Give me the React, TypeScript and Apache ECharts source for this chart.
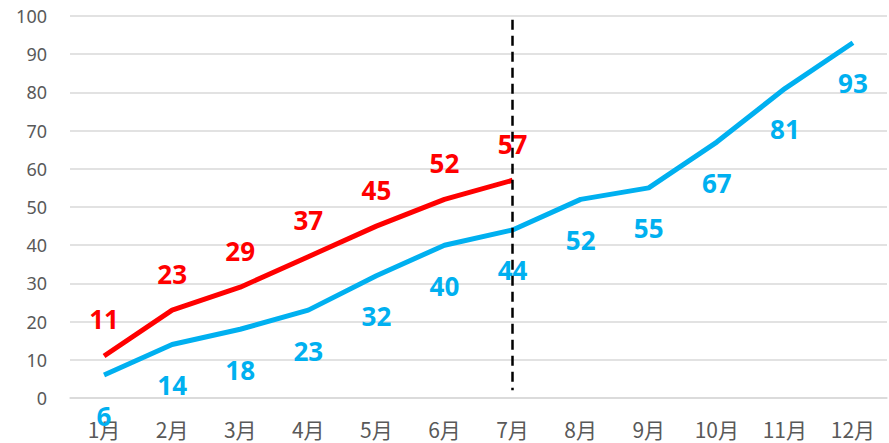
import React, { useEffect, useRef } from "react";
import * as echarts from "echarts";

const months = ["1月", "2月", "3月", "4月", "5月", "6月", "7月", "8月", "9月", "10月", "11月", "12月"];
const redValues = [11, 23, 29, 37, 45, 52, 57];
const blueValues = [6, 14, 18, 23, 32, 40, 44, 52, 55, 67, 81, 93];
const yTicks = { min: 0, max: 100, interval: 10 };
const markMonth = "7月";
const markRange = [99, 2];

export default function App() {
  const ref = useRef<HTMLDivElement>(null);
  useEffect(() => {
    if (!ref.current) return;
    const chart = echarts.init(ref.current, undefined, { renderer: "svg" });
    const labelFont = '"Open Sans", "Noto Sans", sans-serif';
    chart.setOption({
      animation: false,
      backgroundColor: "#ffffff",
      grid: { left: 70, right: 2, top: 16, bottom: 45, containLabel: false },
      xAxis: {
        type: "category",
        data: months,
        boundaryGap: true,
        axisLine: { show: true, lineStyle: { color: "#d9d9d9", width: 1.5 } },
        axisTick: { show: false },
        axisLabel: {
          color: "#595959",
          fontSize: 21,
          margin: 20,
          fontFamily: '"Noto Sans CJK SC", sans-serif',
        },
        splitLine: { show: false },
      },
      yAxis: {
        type: "value",
        min: yTicks.min,
        max: yTicks.max,
        interval: yTicks.interval,
        axisLine: { show: false },
        axisTick: { show: false },
        axisLabel: { color: "#595959", fontSize: 18, margin: 23, fontFamily: '"Noto Sans", sans-serif' },
        splitLine: { show: true, lineStyle: { color: "#d9d9d9", width: 1.5 } },
      },
      series: [
        {
          type: "line",
          data: blueValues,
          showSymbol: true,
          symbol: "circle",
          symbolSize: 1,
          lineStyle: { color: "#00B0F0", width: 5 },
          itemStyle: { color: "rgba(0,0,0,0)", borderWidth: 0 },
          label: {
            show: true,
            position: "bottom",
            distance: 27,
            color: "#00B0F0",
            fontSize: 26,
            fontWeight: "bold",
            fontFamily: labelFont,
          },
          labelLayout: { hideOverlap: false },
          markLine: {
            silent: true,
            symbol: ["none", "none"],
            label: { show: false },
            lineStyle: { color: "#000000", type: [10, 6], width: 2.5 },
            data: [[{ xAxis: markMonth, yAxis: markRange[0] }, { xAxis: markMonth, yAxis: markRange[1] }]],
          },
          z: 2,
        },
        {
          type: "line",
          data: redValues,
          showSymbol: true,
          symbol: "circle",
          symbolSize: 1,
          lineStyle: { color: "#FF0000", width: 5 },
          itemStyle: { color: "rgba(0,0,0,0)", borderWidth: 0 },
          label: {
            show: true,
            position: "top",
            distance: 23,
            color: "#FF0000",
            fontSize: 26,
            fontWeight: "bold",
            fontFamily: labelFont,
          },
          z: 3,
        },
      ],
    });
    return () => chart.dispose();
  }, []);
  return (
    <div
      ref={ref}
      style={{ position: "fixed", left: 0, top: 0, width: 889, height: 443 }}
    />
  );
}
